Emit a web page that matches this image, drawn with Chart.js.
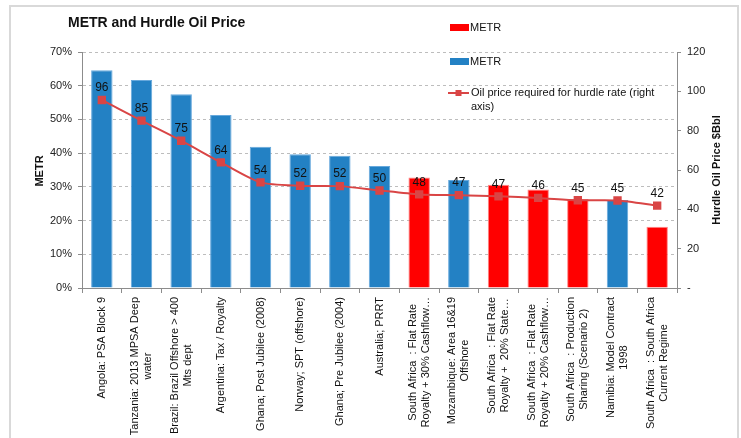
<!DOCTYPE html>
<html>
<head>
<meta charset="utf-8">
<script src="https://cdn.jsdelivr.net/npm/chart.js@4.4.0/dist/chart.umd.min.js"></script>
<style>
    html, body { margin: 0; padding: 0; background: #fff; }
    #wrap { position: relative; width: 741px; height: 438px; overflow: hidden; }
    #frame { position: absolute; left: 9px; top: 5px; width: 726px; height: 470px; border: 2px solid #d9d9d9; pointer-events: none; }
</style>
</head>
<body>
<div id="wrap">
    <canvas id="chart" width="741" height="438"></canvas>
    <div id="frame"></div>
</div>
<script>
// Category labels, wrapped the way they appear under the axis
const categories = [
    ['Angola: PSA Block 9'],
    ['Tanzania: 2013 MPSA Deep', 'water'],
    ['Brazil: Brazil Offshore > 400', 'Mts dept'],
    ['Argentina: Tax / Royalty'],
    ['Ghana; Post Jubilee (2008)'],
    ['Norway; SPT (offshore)'],
    ['Ghana; Pre Jubilee (2004)'],
    ['Australia; PRRT'],
    ['South Africa  : Flat Rate', 'Royalty + 30% Cashflow…'],
    ['Mozambique: Area 16&19', 'Offshore'],
    ['South Africa  : Flat Rate', 'Royalty +  20% State…'],
    ['South Africa  : Flat Rate', 'Royalty + 20% Cashflow…'],
    ['South Africa  : Production', 'Sharing (Scenario 2)'],
    ['Namibia: Model Contract', '1998'],
    ['South Africa  : South Africa', 'Current Regime']
];

// METR (%), split into the blue and red series
const metrBlue = [64.6, 61.7, 57.5, 51.3, 41.9, 39.7, 39.2, 36.2, null, 32.0, null, null, null, 26.1, null];
const metrRed  = [null, null, null, null, null, null, null, null, 32.8, null, 30.6, 29.2, 26.4, null, 18.2];

// Oil price required for hurdle rate ($/bbl, right axis)
const oilPrice = [95.6, 85.1, 74.9, 63.9, 53.7, 52.0, 51.8, 49.6, 47.6, 47.2, 46.6, 45.8, 44.6, 44.5, 41.9];

const legendLabels = ['METR', 'METR', 'Oil price required for hurdle rate (right', 'axis)'];
const chartTitle = 'METR and Hurdle Oil Price';
const leftTitle = 'METR';
const rightTitle = 'Hurdle Oil Price $Bbl';

const FONT = '"Liberation Sans", Arial, sans-serif';
const BLUE = '#2381C4';
const RED = '#FF0000';
const LINE = '#D94545';
const AXIS = '#8c8c8c';
const GRID = '#bdbdbd';

// Draws title, axis titles, legend, wrapped category labels and point labels
const overlay = {
    id: 'overlay',
    afterDatasetsDraw(chart) {
        const ctx = chart.ctx;
        const meta = chart.getDatasetMeta(0);
        ctx.save();
        ctx.font = '12px ' + FONT;
        ctx.fillStyle = '#111';
        ctx.textAlign = 'center';
        ctx.textBaseline = 'bottom';
        meta.data.forEach((pt, i) => {
            ctx.fillText(String(Math.round(oilPrice[i])), pt.x, pt.y - 6);
        });
        ctx.restore();
    },
    afterDraw(chart) {
        const ctx = chart.ctx;
        const area = chart.chartArea;
        ctx.save();
        ctx.fillStyle = '#111';

        // title
        ctx.font = 'bold 14px ' + FONT;
        ctx.textAlign = 'left';
        ctx.textBaseline = 'alphabetic';
        ctx.fillText(chartTitle, 68, 27);

        // axis titles
        ctx.font = 'bold 11px ' + FONT;
        ctx.textAlign = 'center';
        ctx.textBaseline = 'middle';
        [[leftTitle, 40, 171], [rightTitle, 717, 170]].forEach(([t, x, y]) => {
            ctx.save();
            ctx.translate(x, y);
            ctx.rotate(-Math.PI / 2);
            ctx.fillText(t, 0, 0);
            ctx.restore();
        });

        // legend
        ctx.font = '11px ' + FONT;
        ctx.textAlign = 'left';
        ctx.fillStyle = RED;
        ctx.fillRect(450, 24, 19, 7);
        ctx.fillStyle = BLUE;
        ctx.fillRect(450, 58, 19, 7);
        ctx.strokeStyle = LINE;
        ctx.lineWidth = 2;
        ctx.beginPath();
        ctx.moveTo(448, 93);
        ctx.lineTo(469, 93);
        ctx.stroke();
        ctx.fillStyle = LINE;
        ctx.fillRect(455.5, 90, 6, 6);
        ctx.fillStyle = '#111';
        ctx.fillText(legendLabels[0], 470, 28);
        ctx.fillText(legendLabels[1], 470, 62);
        ctx.fillText(legendLabels[2], 471, 93);
        ctx.fillText(legendLabels[3], 471, 107);

        // category labels, rotated, lines centred on each other
        const xs = chart.scales.x;
        const base = area.bottom + 9;
        ctx.font = '11px ' + FONT;
        ctx.textAlign = 'center';
        ctx.textBaseline = 'middle';
        categories.forEach((lines, i) => {
            const cx = xs.getPixelForValue(i);
            const maxW = Math.max(...lines.map(l => ctx.measureText(l).width));
            ctx.save();
            ctx.translate(cx, base + maxW / 2);
            ctx.rotate(-Math.PI / 2);
            lines.forEach((l, j) => ctx.fillText(l, 0, (j - (lines.length - 1) / 2) * 13));
            ctx.restore();
        });
        ctx.restore();
    }
};

new Chart(document.getElementById('chart'), {
    data: {
        labels: categories.map(c => c.join(' ')),
        datasets: [
            {
                type: 'line',
                label: 'Oil price required for hurdle rate (right axis)',
                data: oilPrice,
                yAxisID: 'y1',
                order: 0,
                borderColor: LINE,
                backgroundColor: LINE,
                borderWidth: 2,
                tension: 0.25,
                pointStyle: 'rect',
                pointRadius: 4.5,
                pointBackgroundColor: LINE,
                pointBorderColor: LINE
            },
            {
                type: 'bar',
                label: 'METR',
                data: metrRed,
                yAxisID: 'y',
                order: 1,
                backgroundColor: RED,
                borderColor: '#FF8585',
                borderWidth: 1,
                grouped: false,
                categoryPercentage: 1,
                barPercentage: 0.54
            },
            {
                type: 'bar',
                label: 'METR',
                data: metrBlue,
                yAxisID: 'y',
                order: 2,
                backgroundColor: BLUE,
                borderColor: '#66A8DC',
                borderWidth: 1,
                grouped: false,
                categoryPercentage: 1,
                barPercentage: 0.54
            }
        ]
    },
    options: {
        responsive: false,
        maintainAspectRatio: false,
        animation: false,
        layout: { padding: { top: 52, left: 0, right: 0, bottom: 0 } },
        plugins: {
            legend: { display: false },
            title: { display: false },
            tooltip: { enabled: false }
        },
        scales: {
            x: {
                offset: true,
                ticks: { display: false },
                grid: { display: true, offset: true, drawOnChartArea: false, drawTicks: true, tickLength: 5, color: AXIS },
                border: { display: true, color: AXIS },
                afterFit(s) { s.height = 150; }
            },
            y: {
                position: 'left',
                min: 0,
                max: 70,
                ticks: {
                    stepSize: 10,
                    padding: 6,
                    color: '#222',
                    font: { size: 11, family: FONT },
                    callback: v => v + '%'
                },
                grid: { color: GRID, tickColor: AXIS, tickLength: 4, drawTicks: true },
                border: { display: true, color: AXIS, dash: [3, 3] },
                afterFit(s) { s.width = 82; }
            },
            y1: {
                position: 'right',
                min: 0,
                max: 120,
                ticks: {
                    stepSize: 20,
                    padding: 6,
                    color: '#222',
                    font: { size: 11, family: FONT },
                    callback: v => (v === 0 ? '-' : v)
                },
                grid: { drawOnChartArea: false, tickColor: AXIS, tickLength: 4, drawTicks: true },
                border: { display: true, color: AXIS },
                afterFit(s) { s.width = 64; }
            }
        }
    },
    plugins: [overlay]
});
</script>
</body>
</html>
